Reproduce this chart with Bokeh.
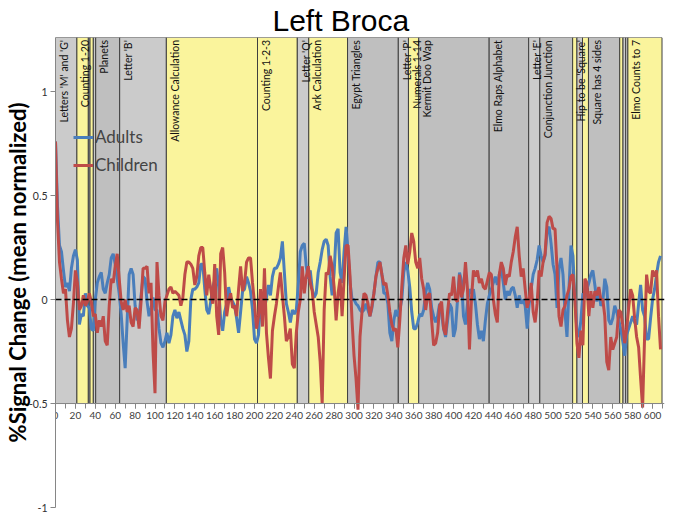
import math
from bokeh.plotting import figure
from bokeh.models import (Range1d, Span, Legend, LegendItem, SingleIntervalTicker,
                          FixedTicker)
from bokeh.core.properties import value
from bokeh.embed import file_html
from bokeh.resources import INLINE

# ---- data ----
time = list(range(0, 610, 2))

adults = [
    0.76, 0.45, 0.26, 0.23, 0.14, 0.06, 0.08, 0.04, 0.15, 0.21,
    0.24, 0.19, -0.12, -0.07, -0.08, 0.03, -0.03, -0.04, -0.14, -0.15,
    0.00, 0.08, 0.11, 0.13, 0.05, 0.03, 0.08, 0.12, 0.20, 0.22,
    0.17, 0.10, 0.03, -0.07, -0.21, -0.33, -0.10, 0.12, 0.15, 0.12,
    -0.03, -0.10, -0.08, 0.02, 0.11, 0.10, -0.01, -0.08, -0.04, 0.01,
    -0.05, -0.05, -0.14, -0.21, -0.23, -0.20, -0.16, -0.21, -0.17, -0.08,
    -0.05, -0.09, -0.06, -0.10, -0.14, -0.17, -0.25, -0.20, 0.00, 0.05,
    0.05, 0.06, 0.08, 0.17, 0.17, 0.05, -0.05, -0.07, -0.01, 0.06,
    0.09, 0.15, 0.06, -0.10, -0.15, -0.06, -0.02, 0.06, 0.01, -0.01,
    -0.03, -0.09, -0.16, -0.06, 0.04, 0.05, 0.11, 0.08, 0.04, -0.05,
    -0.19, -0.21, -0.17, -0.01, -0.06, -0.05, 0.01, 0.07, 0.02, 0.11,
    0.15, 0.15, 0.17, 0.20, 0.28, 0.13, -0.02, -0.06, -0.11, -0.05,
    -0.07, -0.05, 0.07, 0.23, 0.26, 0.27, 0.16, 0.10, 0.14, 0.05,
    0.01, 0.03, 0.13, 0.18, 0.24, 0.28, 0.29, 0.26, 0.11, 0.02,
    0.13, 0.32, 0.34, 0.13, 0.08, 0.23, 0.35, 0.23, 0.08, 0.00,
    0.00, -0.02, -0.03, -0.05, -0.06, -0.05, -0.02, -0.05, -0.08, -0.04,
    0.03, 0.11, 0.18, 0.18, 0.12, 0.03, 0.03, -0.02, -0.16, -0.20,
    -0.10, -0.05, -0.08, -0.05, 0.00, 0.13, 0.18, 0.14, 0.06, -0.06,
    -0.14, -0.14, -0.11, -0.07, -0.08, -0.05, 0.03, 0.08, 0.05, -0.04,
    -0.08, -0.11, -0.08, -0.02, -0.07, -0.14, -0.18, -0.10, -0.02, -0.04,
    -0.18, -0.14, 0.00, 0.13, 0.09, -0.08, -0.12, -0.02, 0.05, 0.03,
    0.05, -0.02, -0.12, -0.19, -0.15, -0.20, -0.10, -0.02, 0.02, 0.05,
    0.08, 0.11, 0.07, 0.12, 0.15, 0.08, 0.00, 0.04, 0.02, 0.05,
    0.06, 0.02, -0.04, 0.02, -0.02, 0.00, -0.03, -0.14, -0.02, 0.05,
    0.12, 0.15, 0.19, 0.26, 0.21, 0.18, 0.21, 0.33, 0.35, 0.27,
    0.17, 0.12, -0.04, 0.15, 0.20, 0.12, -0.06, -0.18, 0.05, 0.26,
    0.21, 0.00, -0.15, -0.18, -0.10, 0.03, 0.00, 0.05, 0.08, 0.12,
    0.14, 0.07, -0.01, 0.05, -0.03, -0.01, 0.10, 0.06, -0.10, -0.12,
    -0.09, -0.03, -0.06, -0.10, -0.14, -0.20, -0.27, -0.17, -0.14, -0.11,
    -0.08, -0.11, -0.12, -0.02, 0.07, -0.05, -0.08, -0.19, -0.19, -0.09,
    0.00, 0.05, 0.12, 0.18, 0.21,
]

children = [
    0.76, 0.38, 0.18, 0.10, 0.03, 0.05, -0.10, -0.18, -0.14, -0.02,
    0.14, 0.08, -0.05, -0.03, 0.02, -0.03, -0.01, 0.03, -0.01, -0.08,
    -0.07, -0.16, -0.10, -0.13, -0.08, -0.20, -0.22, -0.03, 0.10, 0.08,
    0.16, 0.22, 0.10, -0.01, -0.05, 0.00, -0.06, -0.03, -0.11, -0.13,
    -0.04, -0.05, -0.14, -0.01, 0.15, 0.15, 0.16, 0.03, 0.08, -0.25,
    -0.45, 0.18, 0.02, -0.08, -0.10, -0.01, 0.02, 0.05, 0.06, 0.03,
    0.04, 0.03, 0.02, -0.03, 0.01, 0.12, 0.18, 0.18, 0.17, 0.15,
    0.07, 0.11, 0.21, 0.25, 0.25, 0.13, 0.02, 0.12, 0.05, -0.02,
    0.17, -0.08, -0.17, 0.22, 0.25, 0.13, -0.08, -0.01, 0.03, -0.04,
    -0.03, -0.08, 0.05, 0.16, 0.04, 0.08, 0.18, 0.20, 0.20, 0.08,
    -0.02, -0.14, -0.08, 0.05, -0.13, 0.15, -0.16, -0.28, -0.38, -0.15,
    -0.08, -0.02, 0.06, 0.13, 0.02, -0.08, -0.20, -0.18, -0.14, -0.31,
    -0.33, -0.16, -0.06, 0.00, 0.16, 0.03, 0.11, 0.16, 0.08, 0.04,
    -0.06, -0.12, -0.18, -0.30, -0.50, -0.05, 0.13, 0.12, 0.21, 0.16,
    0.06, -0.10, 0.03, 0.10, -0.08, 0.10, 0.26, 0.26, 0.11, -0.10,
    -0.27, -0.38, -0.53, -0.18, -0.06, 0.03, 0.02, -0.02, -0.08, -0.03,
    0.03, 0.11, 0.15, 0.18, 0.12, 0.07, 0.08, 0.02, -0.06, -0.12,
    -0.15, -0.14, -0.23, -0.10, 0.06, 0.20, 0.26, 0.17, 0.23, 0.32,
    0.28, 0.18, 0.15, 0.20, 0.10, 0.05, -0.05, 0.02, 0.03, -0.10,
    -0.22, -0.21, -0.16, -0.03, -0.01, -0.14, -0.17, -0.06, 0.03, 0.02,
    0.11, 0.00, -0.01, 0.12, 0.01, 0.05, 0.18, 0.05, -0.24, 0.00,
    0.14, 0.11, 0.14, 0.08, 0.10, 0.06, 0.05, 0.09, 0.13, 0.12,
    0.00, -0.07, -0.11, 0.12, 0.18, 0.15, 0.07, 0.12, 0.11, 0.18,
    0.23, 0.30, 0.35, 0.21, 0.11, 0.15, 0.05, -0.04, 0.00, 0.08,
    -0.06, -0.11, -0.02, 0.14, 0.11, 0.18, 0.22, 0.37, 0.40, 0.39,
    0.34, 0.34, 0.15, -0.08, -0.13, -0.05, -0.03, 0.02, 0.05, 0.11,
    0.12, 0.00, -0.21, -0.28, -0.15, -0.22, 0.10, 0.08, -0.08, 0.04,
    -0.04, 0.04, 0.02, 0.06, 0.00, 0.00, -0.08, -0.30, -0.34, -0.18,
    -0.24, -0.21, -0.18, -0.05, -0.06, -0.12, -0.21, -0.14, -0.04, 0.05,
    0.02, -0.09, -0.18, -0.23, -0.38, -0.52, -0.18, 0.12, 0.04, 0.03,
    0.14, 0.11, 0.14, -0.08, -0.24,
]

band_start = [0, 21.5, 33, 34.7, 38, 40.4, 64.5, 111.4, 203, 243, 254.5, 293.5,
              344.5, 354.7, 365, 435.8, 475.5, 486.7, 519.7, 524, 529.6, 535.6,
              567, 570.3, 573, 575.2]
band_end = [21.5, 33, 34.7, 38, 40.4, 64.5, 111.4, 203, 243, 254.5, 293.5, 344.5,
            354.7, 365, 435.8, 475.5, 486.7, 519.7, 524, 529.6, 535.6, 567,
            570.3, 573, 575.2, 609.5]
band_kind = ["g", "y", "g", "y", "g", "d", "g", "y", "y", "g", "y", "d",
             "g", "y", "d", "d", "g", "d", "y", "g", "y", "d",
             "y", "g", "g", "y"]
band_label = ["Letters 'M' and 'G'", "Counting 1-20", "", "", "", "Planets",
              "Letter 'B'", "Allowance Calculation", "Counting 1-2-3", "Letter 'Q'",
              "Ark Calculation", "Egypt Triangles", "Letter 'P'", "Numerals 1-14",
              "Kermit Doo Wap", "Elmo Raps Alphabet", "Letter 'E'",
              "Conjunction Junction", "Hip to be 'Square'", "", "",
              "Square has 4 sides", "", "", "", "Elmo Counts to 7"]

x_ticks_interval = 20
y_ticks = [-1, -0.5, 0, 0.5, 1]
y_tick_labels = ["-1", "-0.5", "0", "0.5", "1"]

# ---- figure ----
Y_TOP = 1.26
Y_BASE = -0.5
p = figure(width=667, height=515, x_range=Range1d(0, 612), y_range=Range1d(-1, Y_TOP),
           output_backend="svg", toolbar_location=None, title="Left Broca")
p.title.text_font = "Liberation Sans"
p.title.text_font_size = "30px"
p.title.text_font_style = "normal"
p.title.text_color = "black"
p.title.align = "left"
p.title.offset = 217
p.title.standoff = 2
p.min_border_top = 0
p.min_border_bottom = 8
p.min_border_left = 0
p.min_border_right = 3
p.outline_line_color = None
p.xgrid.visible = False
p.ygrid.visible = False

colmap = {"y": "#faf49c", "g": "#cbcbcb", "d": "#bfbfbf"}
p.quad(left=band_start, right=band_end, bottom=Y_BASE, top=Y_TOP,
       fill_color=[colmap[k] for k in band_kind], line_color="#3f3f3f", line_width=1)

lx = [s + 2.5 for s, t in zip(band_start, band_label) if t]
lt = [t for t in band_label if t]
p.text(x=lx, y=[Y_TOP - 0.012] * len(lt), text=lt, angle=math.pi / 2,
       text_align="right", text_baseline="top", text_font=value("Lato"),
       text_font_size="10.5px", text_color="#111111")

ra = p.line(time, adults, line_color="#4a7ebb", line_width=3)
rc = p.line(time, children, line_color="#be4b48", line_width=3)

p.add_layout(Span(location=0, dimension="width", line_color="black",
                  line_dash="6 3", line_width=1.5))

legend = Legend(items=[LegendItem(label="Adults", renderers=[ra]),
                       LegendItem(label="Children", renderers=[rc])],
                location=(18, 332), background_fill_alpha=0, border_line_alpha=0,
                label_text_font="Lato", label_text_font_size="17px",
                glyph_width=20, glyph_height=20, spacing=7, padding=0, margin=0,
                label_standoff=2)
p.add_layout(legend)

xa = p.xaxis[0]
xa.fixed_location = Y_BASE
xa.ticker = SingleIntervalTicker(interval=x_ticks_interval, num_minor_ticks=2)
xa.axis_line_color = "#868686"
xa.major_tick_line_color = "#868686"
xa.minor_tick_line_color = "#868686"
xa.major_tick_out = 5
xa.major_tick_in = 0
xa.minor_tick_out = 5
xa.minor_tick_in = 0
xa.major_label_text_font = "Lato"
xa.major_label_text_font_size = "10px"
xa.major_label_text_color = "#404040"
xa.major_label_standoff = 3

ya = p.yaxis[0]
ya.ticker = FixedTicker(ticks=y_ticks)
ya.major_label_overrides = {t: s for t, s in zip(y_ticks, y_tick_labels)}
ya.axis_line_color = "#868686"
ya.major_tick_line_color = "#868686"
ya.minor_tick_line_color = None
ya.major_tick_out = 5
ya.major_tick_in = 0
ya.major_label_text_font = "Lato"
ya.major_label_text_font_size = "10.5px"
ya.major_label_text_color = "#303030"
ya.major_label_standoff = 3
ya.axis_label = "%Signal Change (mean normalized)"
ya.axis_label_text_font = "Lato"
ya.axis_label_text_font_style = "bold"
ya.axis_label_text_font_size = "22px"
ya.axis_label_text_color = "black"
ya.axis_label_standoff = -5

open("out.html", "w").write(file_html(p, INLINE))
